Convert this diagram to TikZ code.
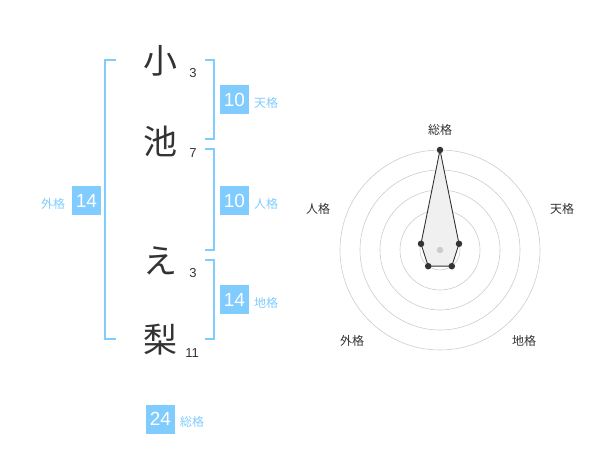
\documentclass[tikz,border=0pt]{standalone}
\usepackage{fontspec}
\setmainfont{Liberation Sans}
\newfontfamily\cjk{Noto Sans CJK JP}
\definecolor{lblue}{HTML}{80CCFF}
\definecolor{dark}{HTML}{333333}
\definecolor{ring}{HTML}{CCCCCC}
\begin{document}
\begin{tikzpicture}[x=1pt,y=-1pt,
  bracket/.style={draw=lblue,line width=1.6pt},
  bigchar/.style={font=\cjk\fontsize{34}{34}\selectfont,text=dark,inner sep=0pt},
  strokes/.style={font=\fontsize{13}{13}\selectfont,text=dark,inner sep=0pt},
  numbox/.style={fill=lblue,text=white,minimum width=29pt,minimum height=29pt,inner sep=0pt,font=\fontsize{19}{19}\selectfont},
  kaku/.style={font=\cjk\fontsize{12}{12}\selectfont,text=lblue,inner sep=0pt},
  axlabel/.style={font=\cjk\fontsize{12}{12}\selectfont,text=dark,inner sep=0pt},
  ringc/.style={draw=ring,line width=0.6pt},
  dot/.style={circle,fill=dark,inner sep=0pt,minimum size=6.5pt}]
\useasboundingbox (0,0) rectangle (600,470);
% characters
\node[bigchar] (c1) at (160,61) {小};
\node[bigchar] (c2) at (160,141) {池};
\node[bigchar] (c3) at (160,261) {え};
\node[bigchar] (c4) at (160,340) {梨};
\node[strokes] (s1) at (193,73) {3};
\node[strokes] (s2) at (193,153) {7};
\node[strokes] (s3) at (193,273) {3};
\node[strokes] (s4) at (192,353) {11};
% brackets
\coordinate (la) at (116,60); \coordinate (lb) at (105,60);
\coordinate (lc) at (105,339); \coordinate (ld) at (116,339);
\draw[bracket] (la) -- (lb) -- (lc) -- (ld);
\coordinate (t1) at (205,60); \coordinate (t2) at (214,60);
\coordinate (t3) at (214,139); \coordinate (t4) at (205,139);
\draw[bracket] (t1) -- (t2) -- (t3) -- (t4);
\coordinate (j1) at (205,149); \coordinate (j2) at (214,149);
\coordinate (j3) at (214,250); \coordinate (j4) at (205,250);
\draw[bracket] (j1) -- (j2) -- (j3) -- (j4);
\coordinate (d1) at (205,260); \coordinate (d2) at (214,260);
\coordinate (d3) at (214,339); \coordinate (d4) at (205,339);
\draw[bracket] (d1) -- (d2) -- (d3) -- (d4);
% boxes
\node[numbox] (ten) at (234.5,100) {10};
\node[kaku] (tenl) at (266,103) {天格};
\node[numbox] (jin) at (234.5,200.5) {10};
\node[kaku] (jinl) at (266,203.5) {人格};
\node[numbox] (chi) at (234.5,300) {14};
\node[kaku] (chil) at (266,303) {地格};
\node[numbox] (gai) at (86.5,200.5) {14};
\node[kaku] (gail) at (53,203.5) {外格};
\node[numbox] (sou) at (160.5,419) {24};
\node[kaku] (soul) at (192,422) {総格};
% radar
\coordinate (rc) at (440,250);
\foreach \r in {20,40,60,80,100} \draw[ringc] (rc) circle (\r);
\coordinate (pS) at (440,150);
\coordinate (pT) at (459,243.8);
\coordinate (pC) at (451.8,266.2);
\coordinate (pG) at (428.2,266.2);
\coordinate (pJ) at (421,243.8);
\fill[fill=black!6] (pS) -- (pT) -- (pC) -- (pG) -- (pJ) -- cycle;
\draw[dark,line width=0.9pt] (pS) -- (pT) -- (pC) -- (pG) -- (pJ) -- cycle;
\fill[ring] (rc) circle (3.2);
\foreach \p in {pS,pT,pC,pG,pJ} \node[dot] at (\p) {};
\node[axlabel] (aS) at (440,130) {総格};
\node[axlabel] (aT) at (562,209) {天格};
\node[axlabel] (aC) at (524,341) {地格};
\node[axlabel] (aG) at (352,341) {外格};
\node[axlabel] (aJ) at (318,209) {人格};
\end{tikzpicture}
\end{document}
